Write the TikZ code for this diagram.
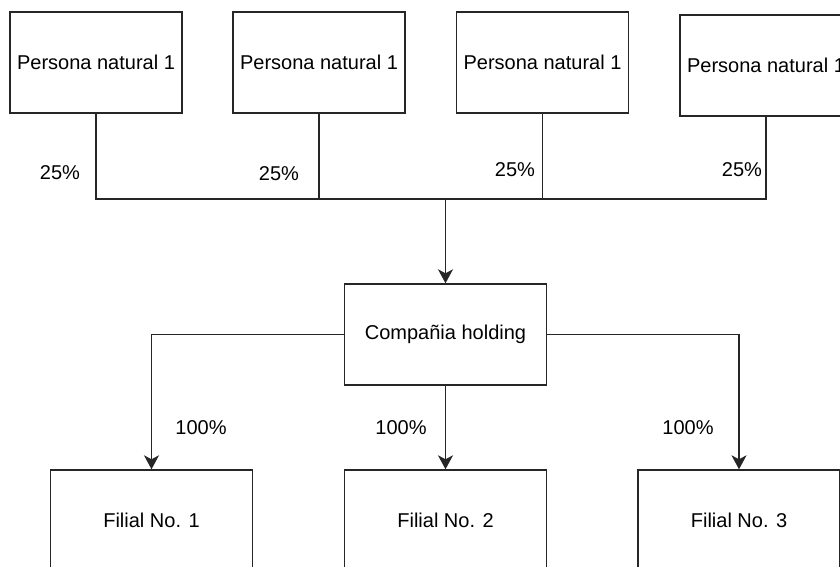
\documentclass[tikz,border=0pt]{standalone}
\usepackage{fontspec}
\setmainfont{Liberation Sans}
\usetikzlibrary{arrows.meta}
\begin{document}
\begin{tikzpicture}[x=1pt,y=-1pt,
  every node/.style={font=\fontsize{20}{22}\selectfont, text=black},
  box/.style={draw=black!85, line width=1.4pt, minimum width=172pt, minimum height=101pt, inner sep=0pt},
  bigbox/.style={draw=black!85, line width=1.4pt, minimum width=202pt, minimum height=101pt, inner sep=0pt},
  conn/.style={draw=black!85, line width=1.4pt},
  arr/.style={conn, -{Stealth[length=14pt,width=15pt,inset=4pt]}},
  pct/.style={inner sep=0pt}]
\useasboundingbox (0,0) rectangle (840,567);
\clip (0,0) rectangle (840,567);
\node[box] (p1) at (96,62.5) {Persona natural 1};
\node[box] (p2) at (319,62.5) {Persona natural 1};
\node[box] (p3) at (542.5,62.5) {Persona natural 1};
\node[box] (p4) at (766,65.5) {Persona natural 1};
\coordinate (j) at (445.5,199);
\node[bigbox] (h) at (445.5,334.5) {Compañia holding};
\node[bigbox, minimum height=100pt] (f1) at (151.5,520) {Filial No. 1};
\node[bigbox, minimum height=100pt] (f2) at (445.5,520) {Filial No. 2};
\node[bigbox, minimum height=100pt] (f3) at (739,520) {Filial No. 3};
\draw[conn] (p1.south) |- (j);
\draw[conn] (p2.south) |- (j);
\draw[conn] (p3.south) |- (j);
\draw[conn] (p4.south) |- (j);
\draw[arr] (j) -- (h.north);
\draw[arr] (h.west) -| (f1.north);
\draw[arr] (h.south) -- (f2.north);
\draw[arr] (h.east) -| (f3.north);
\node[pct] (l1) at (60,173) {25\%};
\node[pct] (l2) at (279,174) {25\%};
\node[pct] (l3) at (515,170) {25\%};
\node[pct] (l4) at (742,170) {25\%};
\node[pct] (m1) at (201,428) {100\%};
\node[pct] (m2) at (401,428) {100\%};
\node[pct] (m3) at (688,428) {100\%};
\end{tikzpicture}
\end{document}
